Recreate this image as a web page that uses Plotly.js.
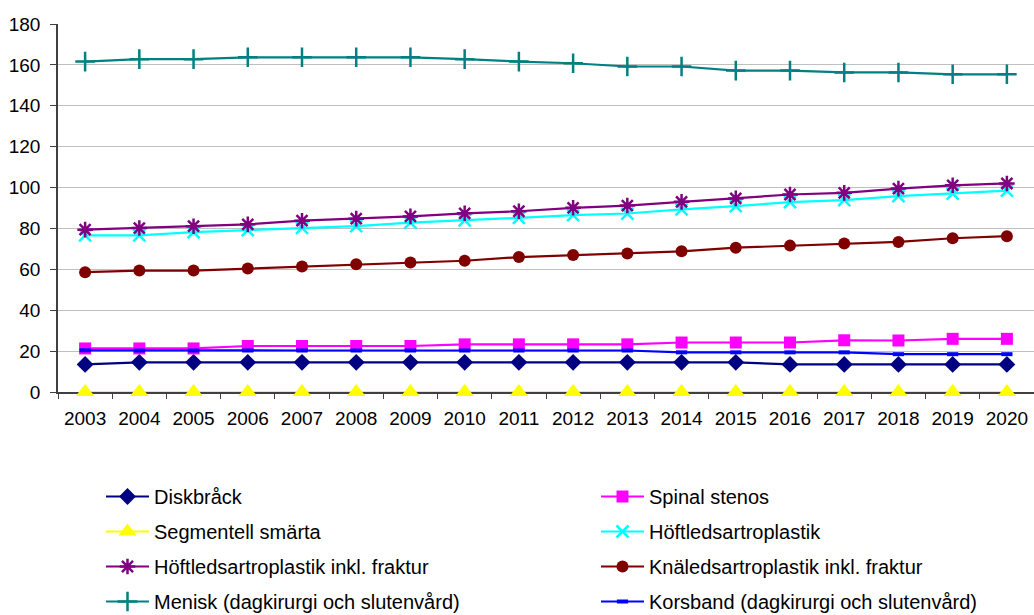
<!DOCTYPE html>
<html>
<head>
<meta charset="utf-8">
<script src="https://cdn.plot.ly/plotly-3.0.1.min.js"></script>
<style>
  html, body { margin: 0; padding: 0; background: #ffffff; }
  #chart { width: 1034px; height: 615px; }
</style>
</head>
<body>
<div id="chart"></div>
<script>
// Years on the x axis
const years = [2003, 2004, 2005, 2006, 2007, 2008, 2009, 2010, 2011,
               2012, 2013, 2014, 2015, 2016, 2017, 2018, 2019, 2020];
const yearLabels = years.map(String);

// Series values per year
const diskbrack   = [13.5, 14.5, 14.5, 14.5, 14.5, 14.5, 14.5, 14.5, 14.5, 14.5, 14.5, 14.5, 14.5, 13.5, 13.5, 13.5, 13.5, 13.5];
const spinal      = [21.3, 21.3, 21.3, 22.5, 22.5, 22.5, 22.5, 23.3, 23.3, 23.3, 23.3, 24.2, 24.2, 24.2, 25.3, 25.2, 26, 26];
const segmentell  = [0, 0, 0, 0, 0, 0, 0, 0, 0, 0, 0, 0, 0, 0, 0, 0, 0, 0];
const hoftled     = [76.6, 76.6, 78.2, 79.2, 80.3, 81.1, 82.8, 83.9, 85.2, 86.5, 87.3, 89.3, 90.9, 92.9, 93.9, 95.8, 97, 98.5];
const hoftledFrak = [79.4, 80.2, 81.1, 82, 83.8, 84.8, 85.9, 87.4, 88.4, 90.1, 91.2, 93, 94.7, 96.6, 97.4, 99.5, 101.1, 102];
const knaled      = [58.6, 59.4, 59.4, 60.4, 61.4, 62.5, 63.3, 64.2, 66, 67, 67.8, 68.8, 70.6, 71.6, 72.6, 73.4, 75.2, 76.2];
const menisk      = [161.6, 162.8, 162.8, 163.7, 163.7, 163.7, 163.7, 162.8, 161.6, 160.8, 159.2, 159.2, 157.2, 157.2, 156.3, 156.3, 155.4, 155.4];
const korsband    = [20.4, 20.3, 20.3, 20.3, 20.3, 20.3, 20.3, 20.3, 20.3, 20.3, 20.3, 19.4, 19.4, 19.4, 19.4, 18.5, 18.5, 18.5];

const FONT = 'Liberation Sans, Arial, sans-serif';

function series(name, y, color, symbol, size, legend, opts) {
  opts = opts || {};
  return {
    type: 'scatter',
    mode: 'lines+markers',
    name: name,
    x: years,
    y: y,
    legend: legend,
    legendgroup: name,
    cliponaxis: false,
    line: { color: color, width: 2.2 },
    marker: {
      symbol: symbol,
      size: size,
      color: color,
      line: { color: color, width: opts.lw || 0 }
    },
    hoverinfo: 'x+y+name'
  };
}

const traces = [
  series('Diskbråck', diskbrack, '#000080', 'diamond', 13, 'legend'),
  series('Spinal stenos', spinal, '#FF00FF', 'square', 12, 'legend2'),
  series('Segmentell smärta', segmentell, '#FFFF00', 'triangle-up', 16, 'legend'),
  series('Höftledsartroplastik', hoftled, '#00FFFF', 'x-thin-open', 12, 'legend2', { lw: 2.5 }),
  series('Höftledsartroplastik inkl. fraktur', hoftledFrak, '#800080', 'asterisk-open', 13, 'legend', { lw: 2.5 }),
  series('Knäledsartroplastik inkl. fraktur', knaled, '#800000', 'circle', 12, 'legend2'),
  series('Menisk (dagkirurgi och slutenvård)', menisk, '#008080', 'cross-thin-open', 14, 'legend', { lw: 2.5 }),
  series('Korsband (dagkirurgi och slutenvård)', korsband, '#0000FF', 'line-ew-open', 8, 'legend2', { lw: 4 })
];

const legendCommon = {
  orientation: 'v',
  xref: 'container', yref: 'container',
  xanchor: 'left', yanchor: 'top',
  bgcolor: 'rgba(0,0,0,0)',
  borderwidth: 0,
  font: { family: FONT, size: 20, color: '#000000' },
  itemwidth: 43,
  tracegroupgap: 6,
  itemclick: false,
  itemdoubleclick: false
};

const layout = {
  width: 1034,
  height: 615,
  paper_bgcolor: '#ffffff',
  plot_bgcolor: '#ffffff',
  margin: { l: 58, r: 0, t: 24, b: 223, autoexpand: false },
  font: { family: FONT, size: 19, color: '#000000' },
  showlegend: true,
  xaxis: {
    type: 'linear',
    range: [2002.5, 2020.5],
    tickmode: 'array',
    tickvals: years,
    ticktext: yearLabels,
    ticks: '',
    showgrid: false,
    showline: true,
    layer: 'below traces',
    linecolor: '#404040',
    linewidth: 1.5,
    tickangle: 0,
    ticklabelstandoff: 8,
    tickfont: { family: FONT, size: 19, color: '#000000' },
    minor: {
      tickmode: 'linear',
      tick0: 2002.5,
      dtick: 1,
      ticks: 'outside',
      ticklen: 5,
      tickcolor: '#404040',
      tickwidth: 1,
      showgrid: false
    },
    zeroline: false,
    automargin: false,
    fixedrange: true
  },
  yaxis: {
    range: [0, 180],
    dtick: 20,
    showgrid: true,
    gridcolor: '#c0c0c0',
    gridwidth: 1.2,
    showline: true,
    layer: 'below traces',
    linecolor: '#404040',
    linewidth: 1.5,
    ticks: 'outside',
    ticklen: 6,
    tickcolor: '#404040',
    ticklabelstandoff: 6,
    tickfont: { family: FONT, size: 19, color: '#000000' },
    zeroline: false,
    automargin: false,
    fixedrange: true
  },
  legend: Object.assign({}, legendCommon, { x: 101 / 1034, y: 1 - 477 / 615 }),
  legend2: Object.assign({}, legendCommon, { x: 596 / 1034, y: 1 - 477 / 615 })
};

Plotly.newPlot('chart', traces, layout, { displayModeBar: false });
</script>
</body>
</html>
